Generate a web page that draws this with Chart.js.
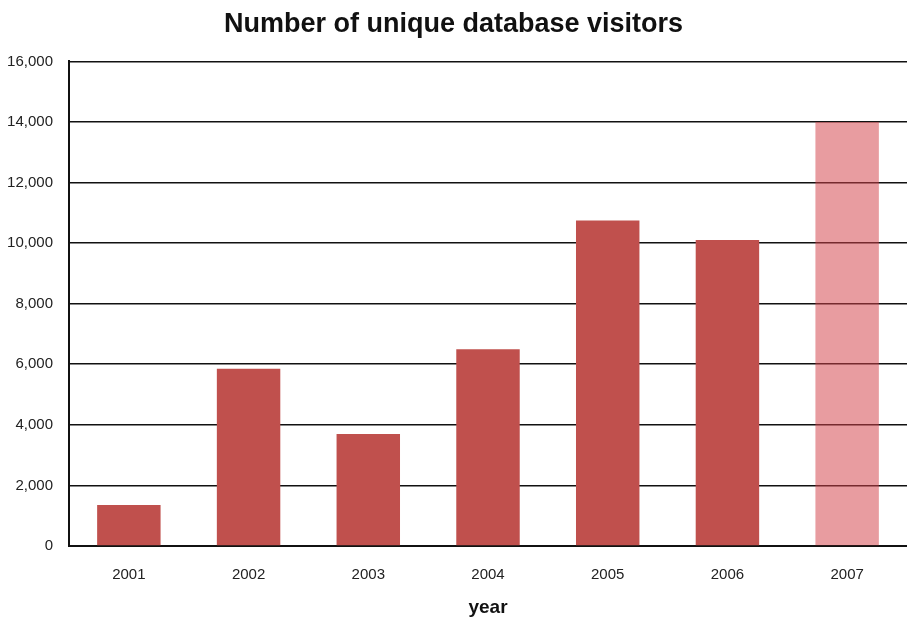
<!DOCTYPE html>
<html>
<head>
<meta charset="utf-8">
<title>Unique database visitors</title>
<script src="https://cdn.jsdelivr.net/npm/chart.js@4/dist/chart.umd.min.js"></script>
<style>
	html, body { margin: 0; padding: 0; background: #fff; }
	#wrap { width: 907px; height: 625px; }
</style>
</head>
<body>
<div id="wrap"><canvas id="barGraph1"></canvas></div>
<script>
var years = ['2001', '2002', '2003', '2004', '2005', '2006', '2007'];
var visitors = [1350, 5850, 3700, 6500, 10750, 10100, 14000];
var yTicks = [0, 2000, 4000, 6000, 8000, 10000, 12000, 14000, 16000];

// last year is drawn lighter
var barColors = [];
for (var i = 0; i < years.length; i++) {
	if (i == years.length - 1) {
		barColors.push('rgba(210, 65, 72, 0.52)');
	} else {
		barColors.push('#C0504D');
	}
}

var chartdata = {
	labels: years,
	datasets: [
		{
			label: 'visitors',
			backgroundColor: barColors,
			borderWidth: 0,
			barPercentage: 0.53,
			categoryPercentage: 1.0,
			data: visitors
		}
	]
};

var options = {
	responsive: true,
	maintainAspectRatio: false,
	animation: false,
	layout: {
		padding: { top: 4, right: 0, bottom: 6, left: 0 }
	},
	plugins: {
		legend: { display: false },
		tooltip: { enabled: false },
		title: {
			display: true,
			text: 'Number of unique database visitors',
			color: '#111',
			font: { family: 'Liberation Sans', size: 27, weight: 'bold' },
			padding: { top: 4, bottom: 21 }
		}
	},
	scales: {
		x: {
			afterFit: function(axis) {
				axis.height = 73;
			},
			grid: { display: false, drawTicks: false },
			border: { display: true, color: '#111', width: 2 },
			ticks: {
				color: '#222',
				font: { family: 'Liberation Sans', size: 15 },
				padding: 20
			},
			title: {
				display: true,
				text: 'year',
				color: '#111',
				font: { family: 'Liberation Sans', size: 19, weight: 'bold' },
				padding: { top: 0, bottom: 0 }
			}
		},
		y: {
			min: 0,
			max: 16000,
			afterBuildTicks: function(axis) {
				axis.ticks = yTicks.map(function(v) { return { value: v }; });
			},
			afterFit: function(axis) {
				axis.width = 69;
			},
			grid: { color: '#111', lineWidth: 1.6, drawTicks: false },
			border: { display: true, color: '#111', width: 2 },
			ticks: {
				color: '#222',
				font: { family: 'Liberation Sans', size: 15 },
				padding: 16,
				callback: function(v) { return v.toLocaleString('en-US'); }
			}
		}
	}
};

var ctx = document.getElementById('barGraph1');

var barGraph = new Chart(ctx, {
	type: 'bar',
	data: chartdata,
	options: options
});
</script>
</body>
</html>
